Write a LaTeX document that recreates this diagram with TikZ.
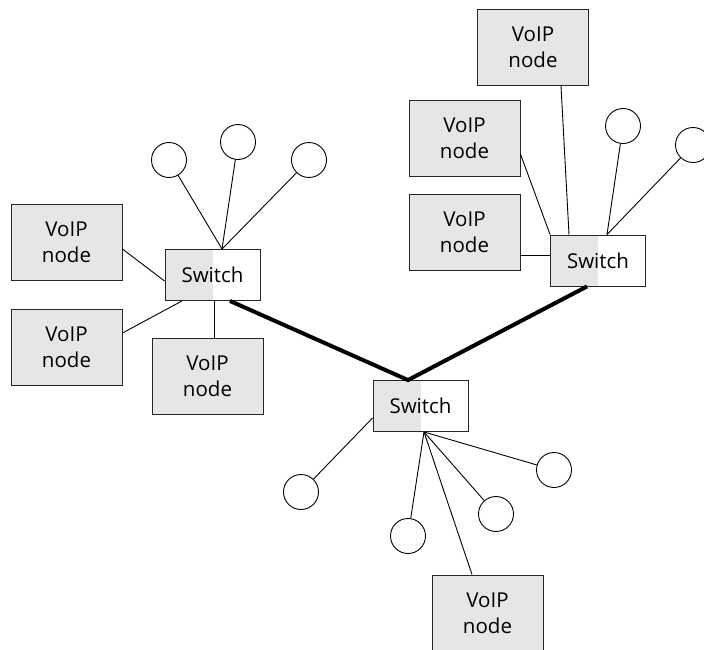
\documentclass[tikz,border=0pt]{standalone}
\usepackage{fontspec}
\setmainfont{Open Sans}
\usetikzlibrary{calc}
\definecolor{boxgray}{HTML}{E6E6E6}
\tikzset{
  voip/.style={draw=black!85, line width=0.9pt, fill=boxgray, minimum width=111pt, minimum height=76pt,
    inner sep=0pt, align=center, font=\fontsize{20.5}{26}\selectfont},
  switchbox/.style={draw=black!85, line width=0.9pt, fill=white, minimum width=95pt, minimum height=51pt,
    inner sep=0pt, font=\fontsize{20.5}{26}\selectfont,
    path picture={\fill[boxgray] (path picture bounding box.south west) rectangle (path picture bounding box.north);}},
  endpt/.style={circle, draw=black, line width=0.9pt, fill=white, minimum size=35pt, inner sep=0pt},
  link/.style={line width=0.9pt},
  trunk/.style={line width=4pt}
}
\begin{document}
\begin{tikzpicture}[x=1pt,y=-1pt]
\useasboundingbox (0,0) rectangle (704,650);
% switches
\node[switchbox] (s1) at (212.5,275) {Switch};
\node[switchbox] (s2) at (420.5,406) {Switch};
\node[switchbox] (s3) at (598,260.5) {Switch};
% voip nodes
\node[voip] (v1) at (533,47.5) {VoIP\\node};
\node[voip] (v2) at (464.5,138) {VoIP\\node};
\node[voip] (v3) at (464.5,232.5) {VoIP\\node};
\node[voip] (v4) at (66.5,242) {VoIP\\node};
\node[voip] (v5) at (66.5,347.5) {VoIP\\node};
\node[voip] (v6) at (207.5,376) {VoIP\\node};
\node[voip] (v7) at (487.5,613) {VoIP\\node};
% circles
\node[endpt] (c1) at (169,160) {};
\node[endpt] (c2) at (238,142) {};
\node[endpt] (c3) at (309,160) {};
\node[endpt] (c4) at (623,126) {};
\node[endpt] (c5) at (693,145) {};
\node[endpt] (c6) at (301,492) {};
\node[endpt] (c7) at (408,536) {};
\node[endpt] (c8) at (496,514) {};
\node[endpt] (c9) at (554,470) {};
% hub points
\coordinate (p1) at ($(s1.north)+(9.5,0)$);
\coordinate (p2) at ($(s2.south)+(3.5,0)$);
\coordinate (p3) at ($(s3.north)+(9,0)$);
% left switch links
\draw[link] (c1) -- (p1);
\draw[link] (c2) -- (p1);
\draw[link] (c3) -- (p1);
\draw[link] ($(v4.east)+(0,7)$) -- ($(s1.west)+(0,6)$);
\draw[link] ($(v5.east)+(0,-14.5)$) -- ($(s1.south)+(-30.5,0)$);
\draw[link] ($(s1.south)+(1.5,0)$) -- ($(v6.north)+(6.5,0)$);
% trunks
\draw[trunk] ($(s1.south)+(17.5,0)$) -- ($(s2.north)+(-12.5,0)$) -- ($(s3.south)+(-11,0)$);
% middle switch links
\draw[link] (c7) -- (p2);
\draw[link] (c8) -- (p2);
\draw[link] (c9) -- (p2);
\draw[link] (p2) -- ($(v7.north)+(-15.5,0)$);
\draw[link] (c6) -- ($(s2.west)+(0,12)$);
% right switch links
\draw[link] ($(v1.south)+(28,0)$) -- ($(s3.north)+(-29,0)$);
\draw[link] ($(v2.east)+(0,16)$) -- (s3.north west);
\draw[link] ($(v3.east)+(0,22.5)$) -- ($(s3.west)+(0,-5.5)$);
\draw[link] (c4) -- (p3);
\draw[link] (c5) -- (p3);
\end{tikzpicture}
\end{document}
